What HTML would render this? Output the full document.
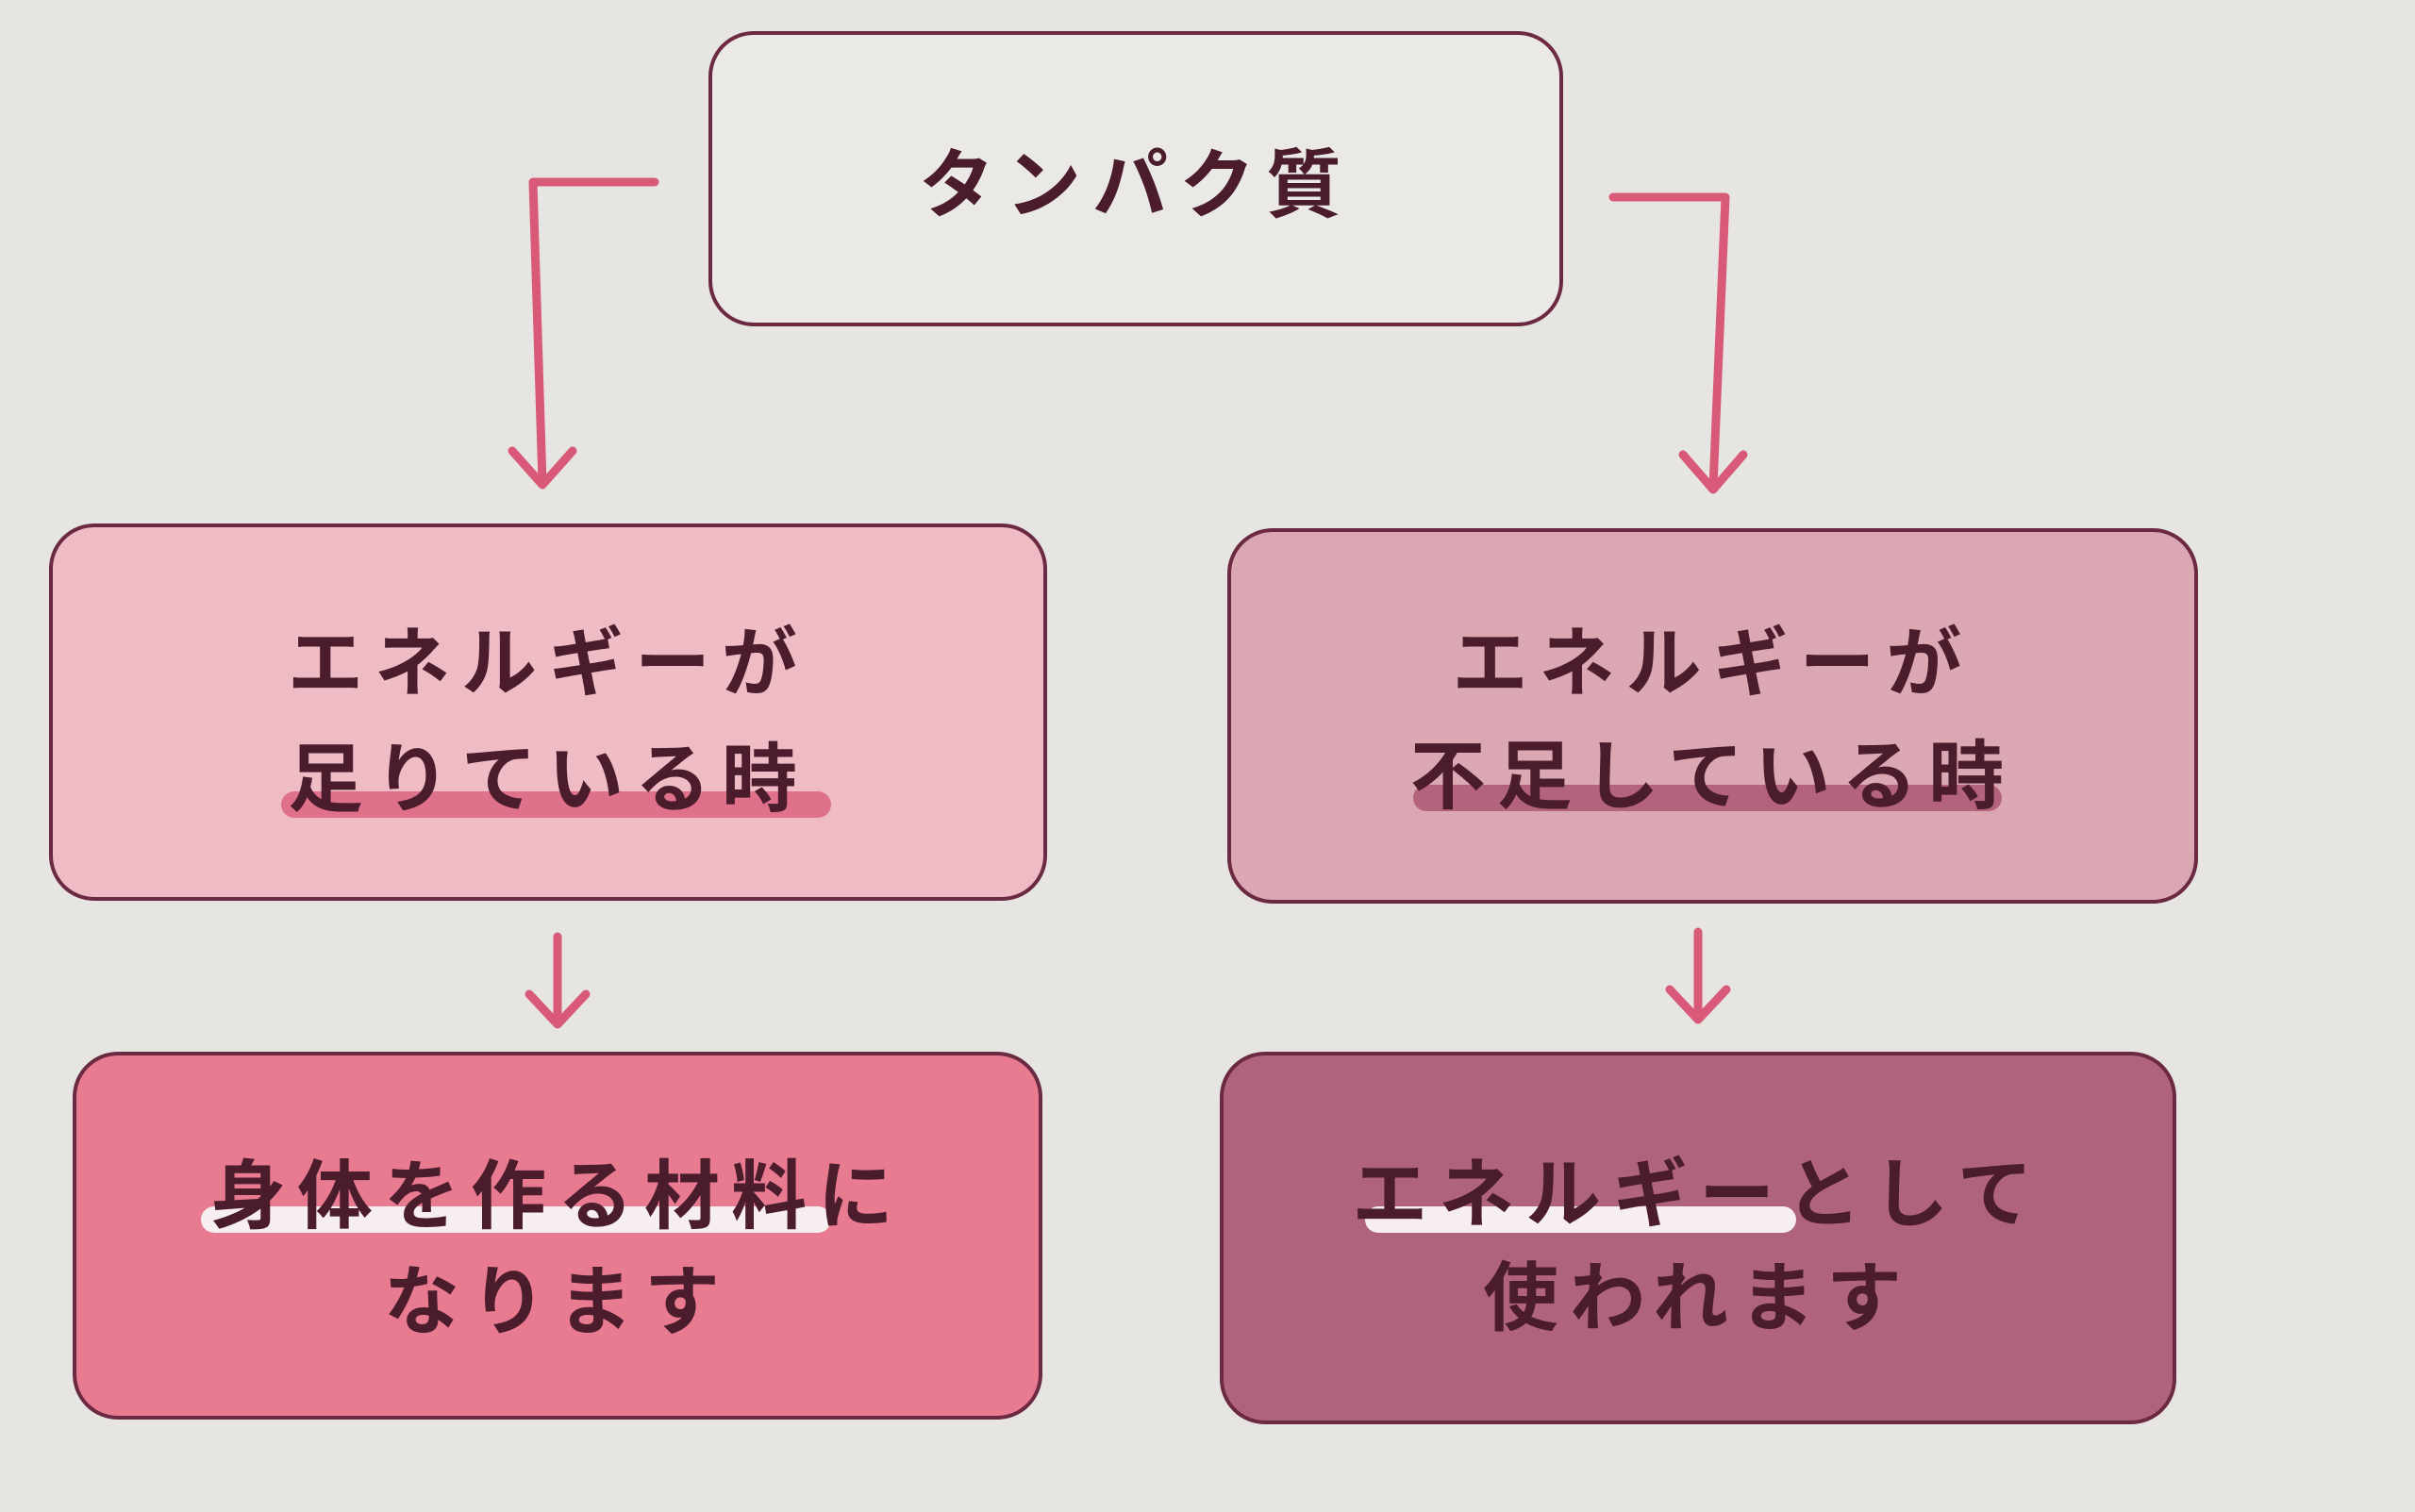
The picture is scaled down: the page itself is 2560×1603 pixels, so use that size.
<!DOCTYPE html>
<html><head><meta charset="utf-8"><style>
html,body{margin:0;padding:0}
body{width:2560px;height:1603px;background:#e7e5e2;position:relative;overflow:hidden;font-family:"Liberation Sans","Noto Sans CJK JP",sans-serif;font-weight:700;color:#4a1c2c}
.box{position:absolute;border:4px solid #6b2a42;border-radius:48px;box-sizing:border-box}
.t{position:absolute;left:0;width:100%;text-align:center;font-size:80px;line-height:1;letter-spacing:12px;white-space:nowrap}
.bar{position:absolute;height:28px;border-radius:14px}
</style></head><body>
<div class="box" style="left:751px;top:33px;width:906px;height:313px;background:#ebe9e6">
  <div class="t" style="top:120px">タンパク質</div>
</div>
<div class="box" style="left:52px;top:555px;width:1058px;height:400px;background:#efbcc6">
  <div class="bar" style="left:242px;top:280px;width:583px;background:#e0718b"></div>
  <div class="t" style="top:105px">エネルギーが</div>
  <div class="t" style="top:228px">足りている時</div>
</div>
<div class="box" style="left:1301px;top:560px;width:1029px;height:398px;background:#dba7b3">
  <div class="bar" style="left:193px;top:268px;width:624px;background:#b4637c"></div>
  <div class="t" style="top:100px">エネルギーが</div>
  <div class="t" style="top:220px">不足している時</div>
</div>
<div class="box" style="left:77px;top:1115px;width:1028px;height:390px;background:#e97b91">
  <div class="bar" style="left:132px;top:160px;width:668px;background:#f6eef0"></div>
  <div class="t" style="top:110px">身体を作る材料に</div>
  <div class="t" style="top:222px">なります</div>
</div>
<div class="box" style="left:1293px;top:1115px;width:1014px;height:395px;background:#b0637c">
  <div class="bar" style="left:150px;top:160px;width:457px;background:#f6eef0"></div>
  <div class="t" style="top:108px">エネルギーとして</div>
  <div class="t" style="top:218px">使われます</div>
</div>
<svg width="2560" height="1603" style="position:absolute;left:0;top:0" fill="none" stroke="#d85a78" stroke-width="9" stroke-linecap="round" stroke-linejoin="round">
  <polyline points="694,193 565,193 575,512"/>
  <polyline points="543,478 575,514 607,478"/>
  <polyline points="1710,209 1829,209 1816,516"/>
  <polyline points="1784,482 1816,519 1848,482"/>
  <line x1="591" y1="993" x2="591" y2="1084"/>
  <polyline points="561,1054 591,1086 621,1054"/>
  <line x1="1800" y1="988" x2="1800" y2="1079"/>
  <polyline points="1770,1049 1800,1081 1830,1049"/>
</svg>
</body></html>
